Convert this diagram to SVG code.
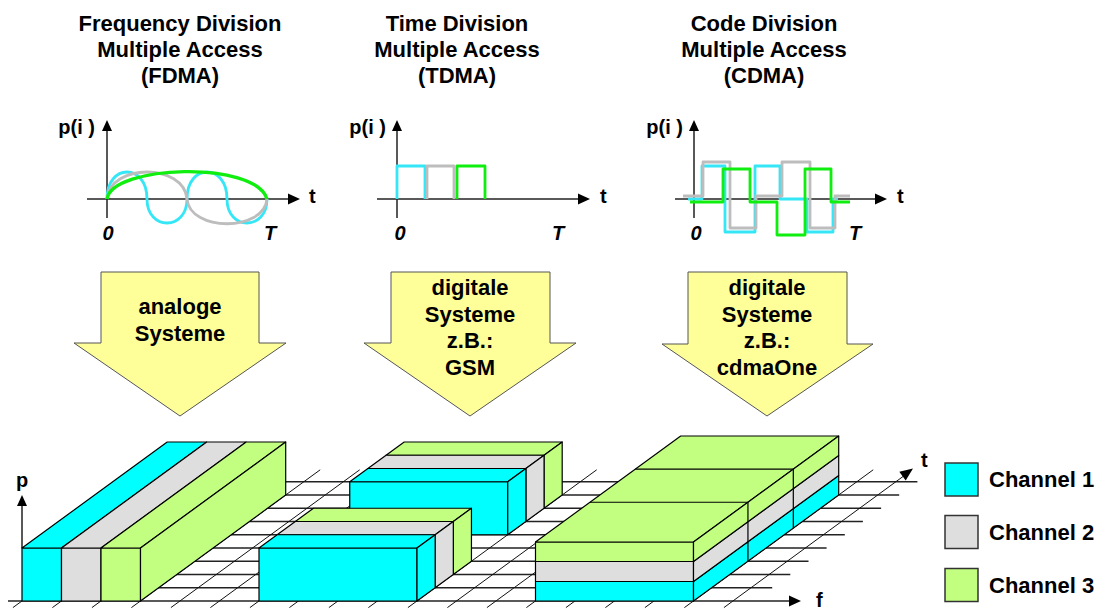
<svg xmlns="http://www.w3.org/2000/svg" width="1105" height="610" viewBox="0 0 1105 610">
  <style>
    .ttl{font-family:"Liberation Sans",Arial,sans-serif;font-weight:bold;font-size:22px;text-anchor:middle;fill:#000}
    .lbl{font-family:"Liberation Sans",Arial,sans-serif;font-weight:bold;font-size:20px;fill:#000}
    .it{font-family:"Liberation Sans",Arial,sans-serif;font-weight:bold;font-style:italic;font-size:20px;text-anchor:middle;fill:#000}
    .leg{font-family:"Liberation Sans",Arial,sans-serif;font-weight:bold;font-size:22px;fill:#000}
    .ax{stroke:#222;stroke-width:1.5;fill:none}
    .ah{fill:#000;stroke:none}
    .big{fill:#FFFF99;stroke:#555;stroke-width:1}
    .sig{fill:none;stroke-width:2.8;stroke-linejoin:round}
    .s1{stroke:#35E6F6}
    .s2{stroke:#BDBDBD}
    .s3{stroke:#10EE10}
    .hl{stroke:#222;stroke-width:1.3}
    .ol{stroke:#111;stroke-width:1}
    .c1{fill:#00FFFF;stroke:#000;stroke-width:1.2;stroke-linejoin:round}
    .c2{fill:#DEDEDE;stroke:#000;stroke-width:1.2;stroke-linejoin:round}
    .c3{fill:#C2FF80;stroke:#000;stroke-width:1.2;stroke-linejoin:round}
    .div{stroke:#000;stroke-width:1.2;fill:none}
    .lg{stroke:#333;stroke-width:1.5}
  </style>

  <!-- ===== column titles ===== -->
  <g id="title-fdma">
    <text class="ttl" x="180" y="31">Frequency Division</text>
    <text class="ttl" x="180" y="57">Multiple Access</text>
    <text class="ttl" x="180" y="83">(FDMA)</text>
  </g>
  <g id="title-tdma">
    <text class="ttl" x="457" y="31">Time Division</text>
    <text class="ttl" x="457" y="57">Multiple Access</text>
    <text class="ttl" x="457" y="83">(TDMA)</text>
  </g>
  <g id="title-cdma">
    <text class="ttl" x="764" y="31">Code Division</text>
    <text class="ttl" x="764" y="57">Multiple Access</text>
    <text class="ttl" x="764" y="83">(CDMA)</text>
  </g>

  <!-- ===== power over time plots ===== -->
  <g id="plot-fdma">
    <line class="ax" x1="107" y1="130" x2="107" y2="218"/>
    <polygon class="ah" points="107,120 102,131 112,131"/>
    <line class="ax" x1="87" y1="199" x2="290" y2="199"/>
    <polygon class="ah" points="300,199 288,193.5 288,204.5"/>
    <text class="lbl" x="95" y="134" text-anchor="end">p(i )</text>
    <text class="lbl" x="309" y="203">t</text>
    <text class="it" x="108" y="240">0</text>
    <text class="it" x="270" y="240">T</text>
    <path class="sig s1" d="M107,199 C107,163 147,163 147,199 C147,231 187,231 187,199 C187,163 227,163 227,199 C227,231 267,231 267,199"/>
    <path class="sig s2" d="M107,199 C110,163 184,163 187,199 C190,232 264,232 267,199"/>
    <path class="sig s3" style="stroke-width:3.4" d="M107,199 C112,165 255,160 267,199"/>
  </g>

  <g id="plot-tdma">
    <line class="ax" x1="397" y1="130" x2="397" y2="218"/>
    <polygon class="ah" points="397,120 392,131 402,131"/>
    <line class="ax" x1="377" y1="199" x2="580" y2="199"/>
    <polygon class="ah" points="590,199 578,193.5 578,204.5"/>
    <text class="lbl" x="386" y="134" text-anchor="end">p(i )</text>
    <text class="lbl" x="600" y="203">t</text>
    <text class="it" x="400" y="240">0</text>
    <text class="it" x="558" y="240">T</text>
    <path class="sig s1" d="M397,199 V166 H425 V199"/>
    <path class="sig s2" d="M427,199 V166 H454 V199"/>
    <path class="sig s3" d="M457,199 V166 H485 V199"/>
  </g>

  <g id="plot-cdma">
    <line class="ax" x1="694" y1="130" x2="694" y2="218"/>
    <polygon class="ah" points="694,120 689,131 699,131"/>
    <line class="ax" x1="675" y1="199" x2="877" y2="199"/>
    <polygon class="ah" points="887,199 875,193.5 875,204.5"/>
    <text class="lbl" x="683" y="134" text-anchor="end">p(i )</text>
    <text class="lbl" x="897" y="203">t</text>
    <text class="it" x="696" y="240">0</text>
    <text class="it" x="855" y="240">T</text>
    <path class="sig s1" d="M688,199 H702 V166 H725 V232 H755 V166 H780 V199 H807 V232 H833 V199 H838"/>
    <path class="sig s2" d="M683,196 H703 V162 H730 V228 H756 V196 H782 V162 H810 V228 H835 V196 H850"/>
    <path class="sig s3" d="M690,202 H723 V169 H750 V202 H777 V235 H805 V169 H831 V202 H850"/>
  </g>

  <!-- ===== block arrows ===== -->
  <g id="arrow-fdma">
    <polygon class="big" points="101,272 259,272 259,343 286,343 180,416 74,343 101,343"/>
    <text class="ttl" x="180" y="314">analoge</text>
    <text class="ttl" x="180" y="341">Systeme</text>
  </g>
  <g id="arrow-tdma">
    <polygon class="big" points="391,272 550,272 550,343 576,343 470,416 364,343 391,343"/>
    <text class="ttl" x="470" y="295">digitale</text>
    <text class="ttl" x="470" y="322">Systeme</text>
    <text class="ttl" x="470" y="348">z.B.:</text>
    <text class="ttl" x="470" y="375">GSM</text>
  </g>
  <g id="arrow-cdma">
    <polygon class="big" points="688,272 847,272 847,344 873,344 767,416 662,344 688,344"/>
    <text class="ttl" x="767" y="295">digitale</text>
    <text class="ttl" x="767" y="322">Systeme</text>
    <text class="ttl" x="767" y="348">z.B.:</text>
    <text class="ttl" x="767" y="375">cdmaOne</text>
  </g>

  <!-- ===== f/t floor grid ===== -->
  <g id="grid">
    <!-- lines of constant t -->
    <line class="hl" x1="8" y1="601" x2="790" y2="601"/>
    <line class="hl" x1="26" y1="587.75" x2="772.2" y2="587.75"/>
    <line class="hl" x1="44" y1="574.5" x2="790.3" y2="574.5"/>
    <line class="hl" x1="62" y1="561.25" x2="808.5" y2="561.25"/>
    <line class="hl" x1="80" y1="548" x2="826.6" y2="548"/>
    <line class="hl" x1="99" y1="534.75" x2="844.8" y2="534.75"/>
    <line class="hl" x1="117" y1="521.5" x2="862.9" y2="521.5"/>
    <line class="hl" x1="135" y1="508.25" x2="881.1" y2="508.25"/>
    <line class="hl" x1="153" y1="495" x2="899.2" y2="495"/>
    <line class="hl" x1="171" y1="481.75" x2="917.4" y2="481.75"/>
    <!-- lines of constant f -->
    <line class="ol" x1="12.9" y1="607.6" x2="201.7" y2="469.8"/>
    <line class="ol" x1="52.4" y1="607.6" x2="241.2" y2="469.8"/>
    <line class="ol" x1="91.9" y1="607.6" x2="280.7" y2="469.8"/>
    <line class="ol" x1="131.4" y1="607.6" x2="320.2" y2="469.8"/>
    <line class="ol" x1="170.9" y1="607.6" x2="359.7" y2="469.8"/>
    <line class="ol" x1="210.4" y1="607.6" x2="399.2" y2="469.8"/>
    <line class="ol" x1="249.9" y1="607.6" x2="438.7" y2="469.8"/>
    <line class="ol" x1="289.4" y1="607.6" x2="478.2" y2="469.8"/>
    <line class="ol" x1="328.9" y1="607.6" x2="517.7" y2="469.8"/>
    <line class="ol" x1="368.4" y1="607.6" x2="557.2" y2="469.8"/>
    <line class="ol" x1="407.9" y1="607.6" x2="596.7" y2="469.8"/>
    <line class="ol" x1="447.4" y1="607.6" x2="636.2" y2="469.8"/>
    <line class="ol" x1="486.9" y1="607.6" x2="675.7" y2="469.8"/>
    <line class="ol" x1="526.4" y1="607.6" x2="715.2" y2="469.8"/>
    <line class="ol" x1="565.9" y1="607.6" x2="754.7" y2="469.8"/>
    <line class="ol" x1="605.4" y1="607.6" x2="794.2" y2="469.8"/>
    <line class="ol" x1="644.9" y1="607.6" x2="833.7" y2="469.8"/>
    <line class="ol" x1="684.4" y1="607.6" x2="873.2" y2="469.8"/>
  </g>

  <!-- axes of the 3D view -->
  <g id="axes3d">
    <line class="ol" x1="723.9" y1="607.6" x2="903" y2="476.5"/>
    <polygon class="ah" points="913,468.5 905.7,480.6 899.3,471.8"/>
    <polygon class="ah" points="801,601 789,595.5 789,606.5"/>
    <line class="ax" x1="22" y1="548" x2="22" y2="504"/>
    <polygon class="ah" points="22,495 17,506 27,506"/>
    <text class="lbl" x="22" y="487" text-anchor="middle">p</text>
    <text class="lbl" x="921" y="467">t</text>
    <text class="lbl" x="816" y="607">f</text>
  </g>

  <!-- FDMA: three bands side by side along f -->
  <g id="blocks-fdma">
    <rect class="c1" x="22" y="548" width="39.5" height="53"/>
    <rect class="c2" x="61.5" y="548" width="39.5" height="53"/>
    <rect class="c3" x="101" y="548" width="39.5" height="53"/>
    <polygon class="c1" points="22,548 61.5,548 206.7,442 167.2,442"/>
    <polygon class="c2" points="61.5,548 101,548 246.2,442 206.7,442"/>
    <polygon class="c3" points="101,548 140.5,548 285.7,442 246.2,442"/>
    <polygon class="c3" points="140.5,548 285.7,442 285.7,495 140.5,601"/>
  </g>

  <!-- TDMA: time slots one behind another, second frame further back -->
  <g id="blocks-tdma-frame2">
    <polygon class="c3" points="386.05,455.25 544.05,455.25 562.2,442 404.2,442"/>
    <polygon class="c3" points="544.05,455.25 562.2,442 562.2,495 544.05,508.25"/>
    <polygon class="c2" points="367.9,468.5 525.9,468.5 544.05,455.25 386.05,455.25"/>
    <polygon class="c2" points="525.9,468.5 544.05,455.25 544.05,508.25 525.9,521.5"/>
    <rect class="c1" x="349.75" y="481.75" width="158" height="53"/>
    <polygon class="c1" points="349.75,481.75 507.75,481.75 525.9,468.5 367.9,468.5"/>
    <polygon class="c1" points="507.75,481.75 525.9,468.5 525.9,521.5 507.75,534.75"/>
  </g>
  <g id="blocks-tdma-frame1">
    <polygon class="c3" points="295.3,521.5 453.3,521.5 471.45,508.25 313.45,508.25"/>
    <polygon class="c3" points="453.3,521.5 471.45,508.25 471.45,561.25 453.3,574.5"/>
    <polygon class="c2" points="277.15,534.75 435.15,534.75 453.3,521.5 295.3,521.5"/>
    <polygon class="c2" points="435.15,534.75 453.3,521.5 453.3,574.5 435.15,587.75"/>
    <rect class="c1" x="259" y="548" width="158" height="53"/>
    <polygon class="c1" points="259,548 417,548 435.15,534.75 277.15,534.75"/>
    <polygon class="c1" points="417,548 435.15,534.75 435.15,587.75 417,601"/>
  </g>

  <!-- CDMA: channels stacked in power, sharing f and t -->
  <g id="blocks-cdma">
    <rect class="c1" x="535.5" y="581.5" width="158" height="19.5"/>
    <rect class="c2" x="535.5" y="561.5" width="158" height="20"/>
    <rect class="c3" x="535.5" y="542" width="158" height="19.5"/>
    <polygon class="c3" points="535.5,542 693.5,542 838.7,436 680.7,436"/>
    <polygon class="c1" points="693.5,601 838.7,495 838.7,475.5 693.5,581.5"/>
    <polygon class="c2" points="693.5,581.5 838.7,475.5 838.7,455.5 693.5,561.5"/>
    <polygon class="c3" points="693.5,561.5 838.7,455.5 838.7,436 693.5,542"/>
    <path class="div" d="M589.95,502.25 H747.95 V561.25 M635.3,469.1 H793.3 V528.1"/>
  </g>

  <!-- legend -->
  <g id="legend">
    <rect class="lg" x="945" y="463" width="33" height="33" fill="#00FFFF"/>
    <text class="leg" x="989" y="487">Channel 1</text>
    <rect class="lg" x="945" y="515.5" width="33" height="33" fill="#DEDEDE"/>
    <text class="leg" x="989" y="540">Channel 2</text>
    <rect class="lg" x="945" y="568.5" width="33" height="33" fill="#C2FF80"/>
    <text class="leg" x="989" y="593">Channel 3</text>
  </g>
</svg>
